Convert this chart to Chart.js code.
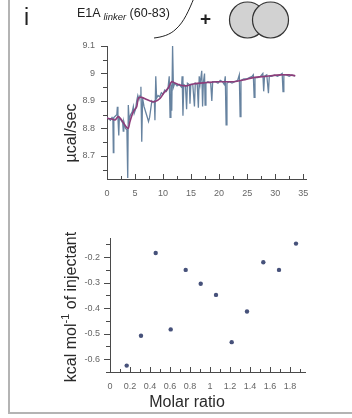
<!DOCTYPE html>
<html><head><meta charset="utf-8">
<script src="https://cdn.jsdelivr.net/npm/chart.js@4"></script>
<style>
html,body{margin:0;padding:0;background:#fff;}
#wrap{position:relative;width:352px;height:418px;overflow:hidden;font-family:"Liberation Sans",Arial,sans-serif;}
canvas{position:absolute;left:0;}
#c1{top:0;} #c2{top:200px;}
.t{position:absolute;color:#222;white-space:nowrap;}
</style></head><body>
<div id="wrap">
<canvas id="c1" width="352" height="200"></canvas>
<canvas id="c2" width="352" height="218"></canvas>
<svg style="position:absolute;left:0;top:0" width="352" height="418">
  <line x1="9" y1="0" x2="9" y2="413" stroke="#b4b4b4" stroke-width="2"/>
  <line x1="8" y1="413" x2="352" y2="413" stroke="#b4b4b4" stroke-width="2"/>
  <path d="M194,-2 C189,10 184,22 176,29 C170,35 162,37 154,38" fill="none" stroke="#222" stroke-width="1"/>
  <circle cx="247.5" cy="20" r="18" fill="#d2d2d2" stroke="#333" stroke-width="1.2"/>
  <circle cx="270.5" cy="20" r="18" fill="#d2d2d2" stroke="#333" stroke-width="1.2"/>
</svg>
<div class="t" style="left:24px;top:4px;font-size:23px;">i</div>
<div class="t" style="left:77px;top:6px;font-size:12.5px;">E1A <i style="font-size:9.5px;position:relative;top:3px;">linker</i> (60-83)</div>
<div class="t" style="left:200px;top:8px;font-size:19px;font-weight:bold;">+</div>
</div>
<script>
// ---- top panel: raw ITC trace (time in min, µcal/sec) ----
const rawTime = [0,0.3,0.6,0.9,1.05,1.13,1.22,1.5,1.75,1.85,1.95,2.1,2.2,2.5,2.8,2.9,3.0,3.3,3.55,3.7,3.8,3.95,4.2,4.5,4.7,4.85,5.1,5.3,5.5,5.7,5.9,6.05,6.2,6.35,6.6,6.9,7.2,7.4,7.6,7.8,8.0,8.2,8.45,8.55,8.7,8.85,9.1,9.4,9.7,10.0,10.3,10.6,10.9,11.1,11.25,11.4,11.55,11.7,11.85,12.1,12.5,12.9,13.3,13.4,13.55,13.7,14.0,14.2,14.35,14.7,14.8,14.95,15.3,15.6,15.75,16.1,16.3,16.45,16.6,16.9,17.05,17.2,17.4,17.5,17.65,18.0,18.5,18.7,18.85,19.3,19.8,20.2,20.6,20.9,21.1,21.25,21.4,21.8,22.3,22.8,23.3,23.6,23.75,23.9,24.4,24.9,25.4,25.9,26.1,26.25,26.4,26.9,27.4,27.8,27.95,28.1,28.5,28.8,28.95,29.4,29.9,30.4,30.9,31.25,31.4,31.55,32.0,32.5,33.0,33.5];
const rawPower = [8.84,8.835,8.83,8.84,8.835,8.712,8.84,8.845,8.85,8.879,8.84,8.774,8.84,8.83,8.82,8.79,8.825,8.80,8.795,8.62,8.885,8.83,8.85,8.86,8.88,8.855,8.87,8.90,8.92,8.905,8.92,8.952,8.752,8.91,8.88,8.86,8.84,8.825,8.84,8.87,8.90,8.895,8.90,8.83,8.99,8.91,8.92,8.915,8.93,8.925,8.94,8.935,8.95,8.99,8.84,8.96,8.864,9.1,8.95,8.965,8.955,8.96,8.95,8.99,8.846,8.96,8.955,8.87,8.965,8.96,8.89,8.96,8.96,8.88,8.965,8.96,8.875,8.99,8.96,9.01,8.88,8.97,9.0,8.885,8.965,8.97,8.965,8.90,8.97,8.97,8.965,8.975,8.97,8.96,8.99,8.813,8.965,8.97,8.965,8.97,8.975,8.995,8.843,8.975,8.98,8.98,8.985,8.99,8.995,8.913,8.985,8.985,8.99,9.0,8.935,8.99,8.995,8.928,8.99,8.99,8.995,8.99,8.995,9.0,8.934,8.995,8.995,8.99,8.995,8.99];
// smoothed baseline
const baseTime = [0,0.7,1.43,2.0,2.6,3.1,3.5,3.8,4.1,4.7,5.3,5.6,6.2,7.1,8.0,8.6,9.5,10.1,10.9,11.55,12.1,13.0,14.2,15.4,17.8,19.6,22.6,24.3,26.1,28.5,30.9,32.5,33.6];
const basePower = [8.837,8.835,8.831,8.843,8.831,8.815,8.804,8.80,8.825,8.861,8.879,8.91,8.913,8.905,8.898,8.898,8.91,8.928,8.946,8.97,8.965,8.958,8.955,8.962,8.967,8.97,8.97,8.976,8.985,8.99,8.995,8.995,8.992];
const topXTicks = [0,5,10,15,20,25,30,35];
const topXMinor = [2.5,7.5,12.5,17.5,22.5,27.5,32.5];
const topYTicks = [8.7,8.8,8.9,9.0,9.1];
const topYMinor = [8.65,8.75,8.85,8.95,9.05];
// ---- bottom panel: integrated heats ----
const molarRatio = [0.167,0.31,0.457,0.607,0.757,0.907,1.06,1.217,1.37,1.533,1.69,1.86];
const heatPerMol = [-0.625,-0.508,-0.184,-0.483,-0.25,-0.304,-0.348,-0.533,-0.413,-0.22,-0.25,-0.147];
const botXTicks = [0,0.2,0.4,0.6,0.8,1.0,1.2,1.4,1.6,1.8];
const botXMinor = [0.1,0.3,0.5,0.7,0.9,1.1,1.3,1.5,1.7,1.9];
const botYTicks = [-0.6,-0.5,-0.4,-0.3,-0.2];
const botYMinor = [-0.65,-0.55,-0.45,-0.35,-0.25,-0.15];

const toXY = (xs, ys) => xs.map((v,i)=>({x:v,y:ys[i]}));
const fmt = v => String(Math.round(v*10)/10);
const AXIS = '#4a4a4a', TICKC = '#666';
const tickFont = {family:'"Liberation Sans", Arial, sans-serif', size:9};

const axisPlugin = {
  id:'axisDeco',
  afterDraw(chart, args, o){
    const ctx = chart.ctx, xs = chart.scales.x, ys = chart.scales.y;
    ctx.save();
    ctx.strokeStyle = AXIS; ctx.lineWidth = 1;
    const xt = (vals,len)=>vals.forEach(v=>{const p=Math.round(xs.getPixelForValue(v))+0.5;ctx.beginPath();ctx.moveTo(p,ys.bottom);ctx.lineTo(p,ys.bottom-len);ctx.stroke();});
    const yt = (vals,len)=>vals.forEach(v=>{const p=Math.round(ys.getPixelForValue(v))+0.5;ctx.beginPath();ctx.moveTo(xs.left,p);ctx.lineTo(xs.left-len,p);ctx.stroke();});
    xt(o.xMajor,5); xt(o.xMinor,3); yt(o.yMajor,6); yt(o.yMinor,4);
    ctx.fillStyle = '#2a2a2a';
    ctx.font = '16px "Liberation Sans", Arial, sans-serif';
    if (o.xTitle){ ctx.textAlign='center'; ctx.textBaseline='middle'; ctx.fillText(o.xTitle, o.xTitlePos[0], o.xTitlePos[1]); }
    if (o.yTitle){
      ctx.translate(o.yTitlePos[0], o.yTitlePos[1]); ctx.rotate(-Math.PI/2);
      ctx.textBaseline='middle';
      const parts = o.yTitle;
      let total = 0;
      parts.forEach(p=>{ctx.font=(p.sup?'11px':'16px')+' "Liberation Sans", Arial, sans-serif'; p.w=ctx.measureText(p.t).width; total+=p.w;});
      let x = -total/2; ctx.textAlign='left';
      parts.forEach(p=>{ctx.font=(p.sup?'11px':'16px')+' "Liberation Sans", Arial, sans-serif'; ctx.fillText(p.t,x,p.sup?-6:0); x+=p.w;});
    }
    ctx.restore();
  }
};

function scaleCfg(min,max,ticksArr,pad,extra){
  return Object.assign({
    type:'linear', min:min, max:max,
    grid:{display:false, drawTicks:false},
    border:{display:true, color:AXIS, width:1},
    ticks:{color:TICKC, font:tickFont, padding:pad, callback:fmt, autoSkip:false, maxRotation:0},
    afterBuildTicks: s => { s.ticks = ticksArr.map(v=>({value:v})); }
  }, extra||{});
}

new Chart(document.getElementById('c1'), {
  type:'scatter',
  data:{datasets:[
    {data:toXY(baseTime,basePower), showLine:true, borderColor:'#8d3d7a', borderWidth:1.6, pointRadius:0, tension:0.3},
    {data:toXY(rawTime,rawPower), showLine:true, borderColor:'#6783a0', borderWidth:1.3, pointRadius:0, tension:0}
  ]},
  options:{
    responsive:false, animation:false, devicePixelRatio:1,
    layout:{padding:{top:46,right:46,left:0,bottom:0}},
    plugins:{legend:{display:false}, tooltip:{enabled:false},
      axisDeco:{xMajor:topXTicks,xMinor:topXMinor,yMajor:topYTicks,yMinor:topYMinor,
        yTitle:[{t:'µcal/sec'}], yTitlePos:[72,133]}},
    scales:{
      x: scaleCfg(0,35.5,topXTicks,9,{afterFit:s=>{s.height=21;}}),
      y: scaleCfg(8.616,9.1,topYTicks,12,{afterFit:s=>{s.width=107;}})
    }
  },
  plugins:[axisPlugin]
});

new Chart(document.getElementById('c2'), {
  type:'scatter',
  data:{datasets:[
    {data:toXY(molarRatio,heatPerMol), backgroundColor:'#46517a', borderColor:'#46517a', pointRadius:2.2, borderWidth:0}
  ]},
  options:{
    responsive:false, animation:false, devicePixelRatio:1,
    layout:{padding:{top:38,right:47,left:0,bottom:0}},
    plugins:{legend:{display:false}, tooltip:{enabled:false},
      axisDeco:{xMajor:botXTicks,xMinor:botXMinor,yMajor:botYTicks,yMinor:botYMinor,
        xTitle:'Molar ratio', xTitlePos:[187,203],
        yTitle:[{t:'kcal mol'},{t:'-1',sup:true},{t:' of injectant'}], yTitlePos:[72,107]}},
    scales:{
      x: scaleCfg(0,1.95,botXTicks,9,{afterFit:s=>{s.height=46;}}),
      y: scaleCfg(-0.65,-0.125,botYTicks,10,{afterFit:s=>{s.width=110;}})
    }
  },
  plugins:[axisPlugin]
});
</script>
</body></html>
